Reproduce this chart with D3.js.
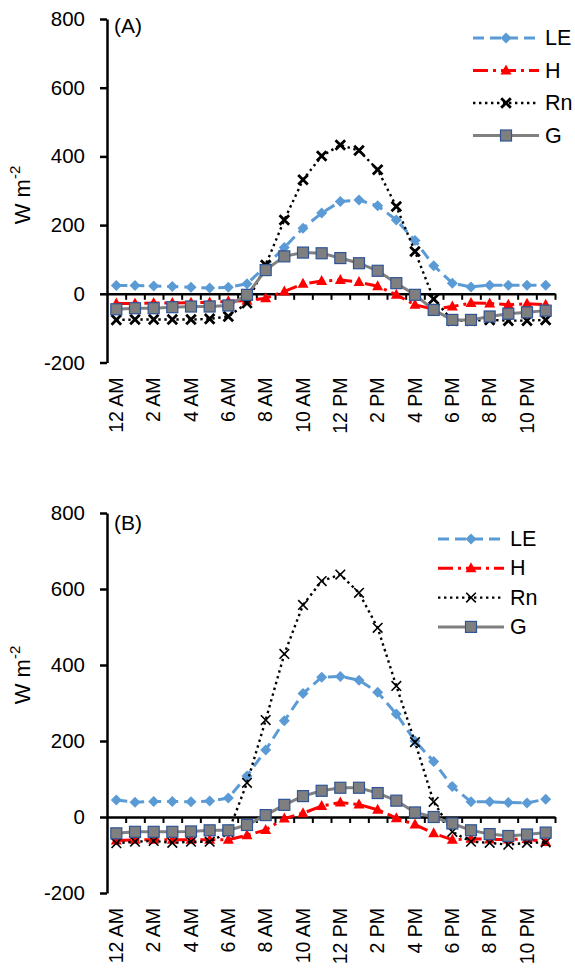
<!DOCTYPE html>
<html>
<head>
<meta charset="utf-8">
<script src="https://cdn.jsdelivr.net/npm/d3@7/dist/d3.min.js"></script>
<style>
  html, body { margin: 0; padding: 0; background: #fff; }
  svg { display: block; font-family: "Liberation Sans", Arial, sans-serif; }
</style>
</head>
<body>
<svg id="chart" width="575" height="973"></svg>
<script>
// Hourly categories (local time)
const hours = ["12 AM","1 AM","2 AM","3 AM","4 AM","5 AM","6 AM","7 AM","8 AM","9 AM","10 AM","11 AM",
               "12 PM","1 PM","2 PM","3 PM","4 PM","5 PM","6 PM","7 PM","8 PM","9 PM","10 PM","11 PM"];
const hourLabels = ["12 AM","2 AM","4 AM","6 AM","8 AM","10 AM","12 PM","2 PM","4 PM","6 PM","8 PM","10 PM"];
const yTicks = [-200, 0, 200, 400, 600, 800];

// Panel (A) energy fluxes, W m-2
const leA = [24, 24, 23, 21, 19, 17, 19, 29, 80, 135, 191, 235, 269, 273, 256, 215, 155, 82, 31, 20, 25, 25, 25, 25];
const hA  = [-28, -28, -27, -27, -26, -25, -22, -20, -13, 7, 29, 37, 40, 34, 22, -3, -32, -45, -37, -27, -28, -32, -29, -32];
const rnA = [-76, -75, -75, -75, -75, -73, -66, -27, 84, 215, 332, 401, 433, 417, 361, 254, 123, -15, -78, -78, -76, -78, -78, -76];
const gA  = [-45, -42, -42, -39, -37, -37, -34, -3, 69, 109, 120, 118, 104, 89, 67, 31, -3, -47, -76, -76, -66, -58, -54, -49];

// Panel (B) energy fluxes, W m-2
const leB = [45, 39, 41, 41, 40, 42, 50, 108, 176, 253, 325, 368, 370, 360, 328, 271, 200, 146, 80, 40, 40, 38, 37, 47];
const hB  = [-62, -60, -60, -60, -60, -60, -60, -48, -34, -4, 10, 29, 38, 33, 19, -3, -20, -43, -60, -57, -59, -59, -58, -66];
const rnB = [-69, -65, -63, -68, -65, -65, -40, 90, 255, 429, 558, 621, 638, 590, 498, 345, 197, 40, -39, -65, -68, -73, -68, -67];
const gB  = [-43, -39, -39, -39, -38, -35, -35, -21, 5, 32, 55, 69, 77, 77, 63, 43, 12, 0, -17, -35, -45, -50, -46, -41];

const seriesNames = ["LE", "H", "Rn", "G"];

const svg = d3.select("#chart");

const styles = {
  LE: { color: "#5B9BD5", width: 3, dash: "11,6", marker: "diamond" },
  H:  { color: "#FF0000", width: 3, dash: "15,5,3,5", marker: "triangle" },
  Rn: { color: "#000000", width: 2.4, dash: "2.4,3.6", marker: "cross" },
  G:  { color: "#808080", width: 3, dash: null, marker: "square" }
};

function drawMarker(g, kind, cx, cy, crossWidth) {
  if (kind === "diamond") {
    g.append("path")
      .attr("d", `M${cx},${cy - 5.5}L${cx + 5.5},${cy}L${cx},${cy + 5.5}L${cx - 5.5},${cy}Z`)
      .attr("fill", "#5B9BD5");
  } else if (kind === "triangle") {
    g.append("path")
      .attr("d", `M${cx},${cy - 6}L${cx + 5.5},${cy + 4}L${cx - 5.5},${cy + 4}Z`)
      .attr("fill", "#FF0000");
  } else if (kind === "cross") {
    const s = 4.8;
    g.append("path")
      .attr("d", `M${cx - s},${cy - s}L${cx + s},${cy + s}M${cx - s},${cy + s}L${cx + s},${cy - s}`)
      .attr("stroke", "#000").attr("stroke-width", crossWidth).attr("fill", "none");
  } else if (kind === "square") {
    g.append("rect")
      .attr("x", cx - 5.5).attr("y", cy - 5.5).attr("width", 11).attr("height", 11)
      .attr("fill", "#7F7F7F").attr("stroke", "#2F5597").attr("stroke-width", 1.2);
  }
}

function panel(opts) {
  const { top, bottom, data, tag, tagY, titleY, legend, crossWidth } = opts;
  const left = 107, right = 555;

  const x = d3.scaleBand().domain(hours).range([left, right]).padding(0);
  const cx = d => x(d) + x.bandwidth() / 2;
  const y = d3.scaleLinear().domain([-200, 800]).range([bottom, top]);
  const edges = d3.scaleLinear().domain([0, hours.length]).range([left, right]);

  const g = svg.append("g");

  // y axis (plain hyphen for negatives)
  const yAxis = g.append("g")
    .attr("transform", `translate(${left},0)`)
    .call(d3.axisLeft(y).tickValues(yTicks).tickFormat(d => String(d))
      .tickSize(7).tickSizeOuter(0).tickPadding(15));
  yAxis.select(".domain").attr("stroke", "#000").attr("stroke-width", 2.5);
  yAxis.selectAll(".tick line").attr("stroke", "#000").attr("stroke-width", 2.5);
  yAxis.selectAll(".tick text").attr("font-size", 20.5).attr("fill", "#000")
    .attr("font-family", "Liberation Sans, Arial, sans-serif");

  // x axis along zero, ticks between categories
  const xAxis = g.append("g")
    .attr("transform", `translate(0,${y(0)})`)
    .call(d3.axisBottom(edges).tickValues(d3.range(1, hours.length + 1)).tickSize(6).tickSizeOuter(0).tickFormat(""));
  xAxis.select(".domain").attr("stroke", "#000").attr("stroke-width", 2.5);
  xAxis.selectAll(".tick line").attr("stroke", "#000").attr("stroke-width", 2);

  // hour labels below plot
  const lab = g.append("g")
    .attr("transform", `translate(0,${bottom})`)
    .call(d3.axisBottom(x).tickValues(hourLabels).tickSize(0).tickSizeOuter(0));
  lab.select(".domain").remove();
  lab.selectAll(".tick text")
    .attr("font-size", 19.5).attr("fill", "#000")
    .attr("font-family", "Liberation Sans, Arial, sans-serif")
    .attr("text-anchor", "end")
    .attr("transform", "rotate(-90)")
    .attr("x", -15).attr("y", 0).attr("dy", "0.35em");

  // y title
  const t = g.append("text")
    .attr("transform", `translate(22,${titleY}) rotate(-90)`)
    .attr("text-anchor", "middle")
    .attr("dominant-baseline", "central")
    .attr("font-size", 22).attr("fill", "#000");
  t.append("tspan").text("W m");
  t.append("tspan").attr("font-size", 15).attr("dy", -8).text("-2");

  // panel tag
  g.append("text").attr("x", 114).attr("y", tagY).attr("font-size", 21).attr("fill", "#000").text(tag);

  // series
  seriesNames.forEach(name => {
    const st = styles[name];
    const vals = data[name];
    const line = d3.line().x((d, i) => cx(hours[i])).y(d => y(d));
    g.append("path")
      .datum(vals)
      .attr("d", line)
      .attr("fill", "none")
      .attr("stroke", st.color)
      .attr("stroke-width", st.width)
      .attr("stroke-dasharray", st.dash);
    const mg = g.append("g");
    vals.forEach((v, i) => drawMarker(mg, st.marker, cx(hours[i]), y(v), crossWidth));
  });

  // legend
  seriesNames.forEach((name, i) => {
    const st = styles[name];
    const ly = legend.y0 + i * legend.dy;
    g.append("line")
      .attr("x1", legend.x1).attr("x2", legend.x2).attr("y1", ly).attr("y2", ly)
      .attr("stroke", st.color).attr("stroke-width", st.width)
      .attr("stroke-dasharray", st.dash);
    drawMarker(g, st.marker, (legend.x1 + legend.x2) / 2, ly, crossWidth);
    g.append("text").attr("x", legend.tx).attr("y", ly)
      .attr("dominant-baseline", "central")
      .attr("font-size", 21.5).attr("fill", "#000").text(name);
  });
}

panel({
  top: 19, bottom: 362.5,
  data: { LE: leA, H: hA, Rn: rnA, G: gA },
  tag: "(A)", tagY: 33, titleY: 195,
  legend: { x1: 473, x2: 539, y0: 38, dy: 32.5, tx: 545 },
  crossWidth: 2.8
});

panel({
  top: 513, bottom: 893,
  data: { LE: leB, H: hB, Rn: rnB, G: gB },
  tag: "(B)", tagY: 530, titleY: 675,
  legend: { x1: 438, x2: 504, y0: 539, dy: 29.3, tx: 510 },
  crossWidth: 1.6
});
</script>
</body>
</html>
